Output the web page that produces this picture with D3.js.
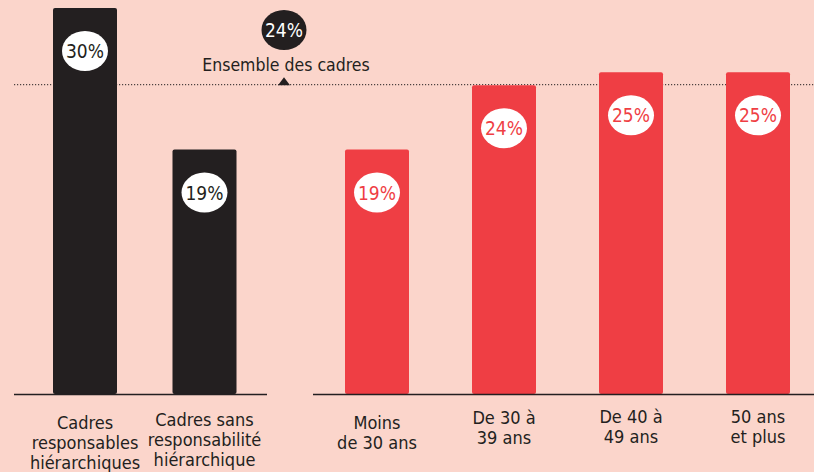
<!DOCTYPE html>
<html>
<head>
<meta charset="utf-8">
<script src="https://cdn.jsdelivr.net/npm/d3@7"></script>
<style>
  html, body { margin: 0; padding: 0; background: #fbd5cb; }
  svg { display: block; }
  text { font-family: "DejaVu Sans Condensed", "DejaVu Sans", sans-serif; font-stretch: condensed; fill: #231f20; }
</style>
</head>
<body>
<div id="chart"></div>
<script>
// Data
const leftCats = ["resp", "sansresp"];
const leftValues = [30, 19];
const leftLabels = [["Cadres", "responsables", "hiérarchiques"], ["Cadres sans", "responsabilité", "hiérarchique"]];

const rightCats = ["moins30", "30a39", "40a49", "50plus"];
const rightValues = [19, 24, 25, 25];
const rightLabels = [["Moins", "de 30 ans"], ["De 30 à", "39 ans"], ["De 40 à", "49 ans"], ["50 ans", "et plus"]];

const average = 24;
const averageLabel = "Ensemble des cadres";

// Sets dimensions and creates elements
const width = 814;
const height = 472;
const baseline = 394;
const barWidth = 64;
const dark = "#231f20";
const red = "#ef3e44";

const svg = d3.select("#chart")
    .append("svg")
    .attr("width", width)
    .attr("height", height);

const y = d3.scaleLinear().domain([0, 30]).range([baseline, 8]);
const xLeft = d3.scalePoint().domain(leftCats).range([85, 204.5]);
const xRight = d3.scalePoint().domain(rightCats).range([377, 758]);

// Average dotted line
svg.append("line")
    .attr("x1", 14).attr("x2", width)
    .attr("y1", y(average) - 0.5).attr("y2", y(average) - 0.5)
    .attr("stroke", dark)
    .attr("stroke-width", 1)
    .attr("stroke-dasharray", "1.2,1.8");

function drawGroup(cats, values, labels, x, color, textColor, axisFrom, axisTo, firstLine) {
    const g = svg.append("g");

    g.selectAll("rect")
        .data(cats)
        .enter()
        .append("rect")
        .attr("x", d => x(d) - barWidth / 2)
        .attr("y", (d, i) => y(values[i]))
        .attr("width", barWidth)
        .attr("height", (d, i) => baseline - y(values[i]))
        .attr("rx", 2)
        .attr("fill", color);

    // Value bubbles
    g.selectAll("ellipse")
        .data(cats)
        .enter()
        .append("ellipse")
        .attr("cx", d => x(d))
        .attr("cy", (d, i) => y(values[i]) + 43)
        .attr("rx", 23)
        .attr("ry", 20)
        .attr("fill", "#fff");

    g.selectAll("text.val")
        .data(cats)
        .enter()
        .append("text")
        .attr("class", "val")
        .attr("x", d => x(d))
        .attr("y", (d, i) => y(values[i]) + 50)
        .attr("text-anchor", "middle")
        .style("font-size", "19px")
        .style("fill", textColor)
        .text((d, i) => values[i] + "%");

    // Axis line
    g.append("line")
        .attr("x1", axisFrom).attr("x2", axisTo)
        .attr("y1", baseline + 0.5).attr("y2", baseline + 0.5)
        .attr("stroke", dark)
        .attr("stroke-width", 1.5);

    // Category labels
    const lab = g.selectAll("text.cat")
        .data(cats)
        .enter()
        .append("text")
        .attr("class", "cat")
        .attr("text-anchor", "middle")
        .attr("y", (d, i) => firstLine[i])
        .style("font-size", "18px");

    lab.each(function(d, i) {
        d3.select(this).selectAll("tspan")
            .data(labels[i])
            .enter()
            .append("tspan")
            .attr("x", x(d))
            .attr("dy", (t, j) => j === 0 ? 0 : 20)
            .text(t => t);
    });
}

drawGroup(leftCats, leftValues, leftLabels, xLeft, dark, dark, 14, 267, [429, 426]);
drawGroup(rightCats, rightValues, rightLabels, xRight, red, red, 313, width, [429, 424, 423, 423]);

// Average marker
const ax = 284;
svg.append("ellipse")
    .attr("cx", ax).attr("cy", 30)
    .attr("rx", 22.5).attr("ry", 20)
    .attr("fill", dark);

svg.append("text")
    .attr("x", ax).attr("y", 37)
    .attr("text-anchor", "middle")
    .style("font-size", "19px")
    .style("fill", "#fff")
    .text(average + "%");

svg.append("text")
    .attr("x", 286).attr("y", 71)
    .attr("text-anchor", "middle")
    .style("font-size", "17.5px")
    .text(averageLabel);

svg.append("path")
    .attr("d", `M${ax - 6},${y(average)} L${ax + 6},${y(average)} L${ax},${y(average) - 8} Z`)
    .attr("fill", dark);
</script>
</body>
</html>
